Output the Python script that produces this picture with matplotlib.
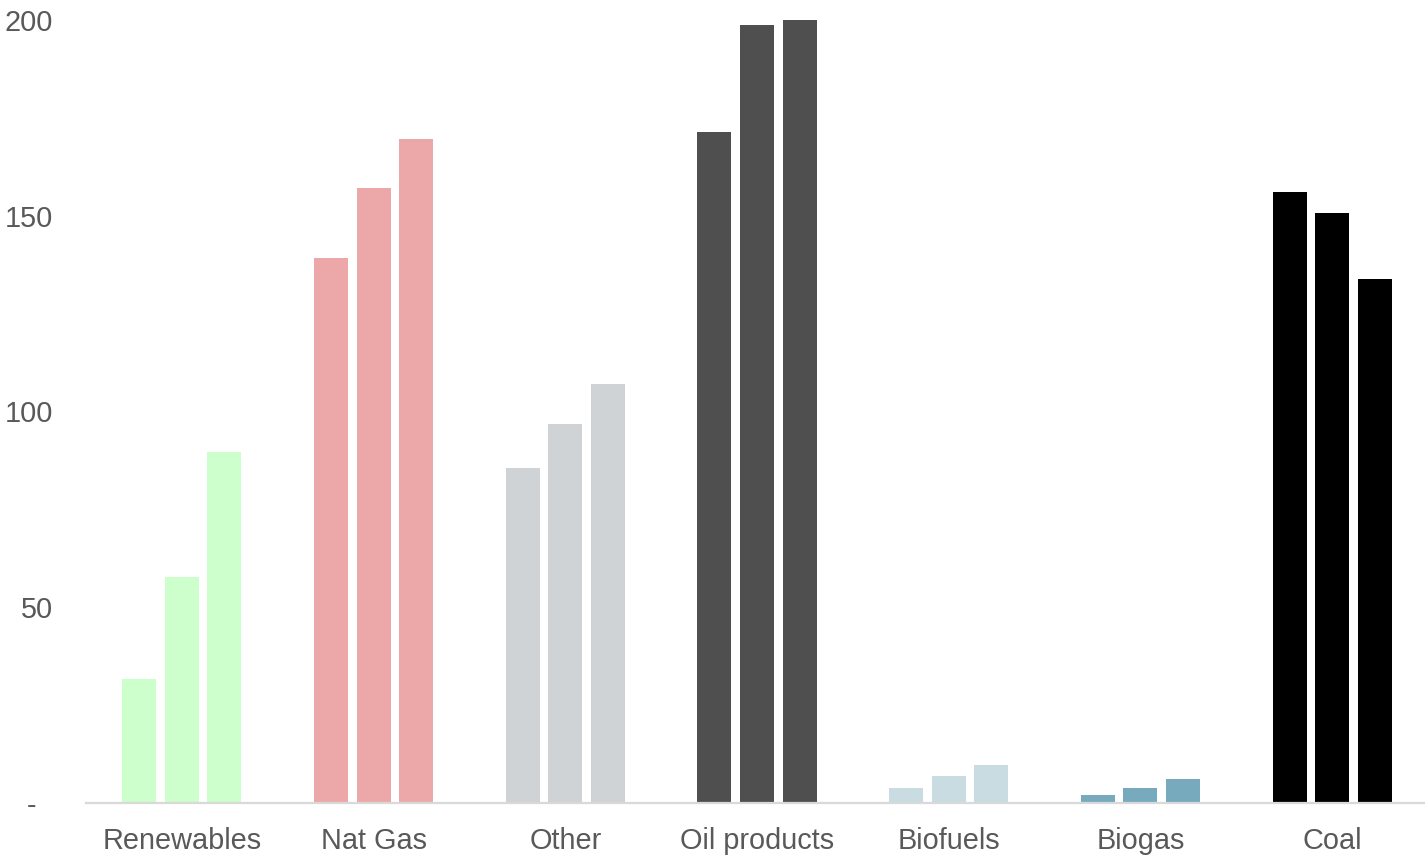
"""Grouped bar chart: fuel use by category, three periods each."""

import matplotlib
matplotlib.use("Agg")
import matplotlib.pyplot as plt
import numpy as np

categories = ["Renewables", "Nat Gas", "Other", "Oil products", "Biofuels", "Biogas", "Coal"]
period_1 = [31.5, 139.1, 85.4, 171.5, 3.6, 2.0, 156.0]
period_2 = [57.6, 157.0, 96.7, 198.6, 6.9, 3.6, 150.6]
period_3 = [89.5, 169.6, 106.9, 199.9, 9.5, 5.9, 133.8]
colors = ["#CCFFCC", "#ECA8A9", "#D0D3D6", "#4F4F4F", "#C8DCE2", "#77AABD", "#000000"]
ytick_values = [0, 50, 100, 150, 200]
ytick_labels = ["-  ", "50", "100", "150", "200"]

TEXT = "#595959"

plt.rcParams["font.family"] = ["Liberation Sans", "DejaVu Sans"]

fig = plt.figure(figsize=(14.25, 8.55), dpi=100)
ax = fig.add_axes([86 / 1425, 52.5 / 855, 1342 / 1425, 782.5 / 855])

x = np.arange(len(categories))
pitch = 0.222
width = 0.177
for i, series in enumerate([period_1, period_2, period_3]):
  ax.bar(x + (i - 1) * pitch, series, width=width, color=colors, linewidth=0)

ax.set_xlim(-0.5, len(categories) - 0.5)
ax.set_ylim(0, 200)
ax.set_xticks(x)
ax.set_xticklabels(categories)
ax.set_yticks(ytick_values)
ax.set_yticklabels(ytick_labels)
ax.tick_params(axis="both", length=0, labelsize=20.8, labelcolor=TEXT)
ax.tick_params(axis="y", pad=24)
ax.tick_params(axis="x", pad=17.5)

for spine in ("top", "right", "left"):
  ax.spines[spine].set_visible(False)
ax.spines["bottom"].set_color("#D9D9D9")
ax.spines["bottom"].set_linewidth(1.6)

fig.savefig("out.png", dpi=100, facecolor="white")
